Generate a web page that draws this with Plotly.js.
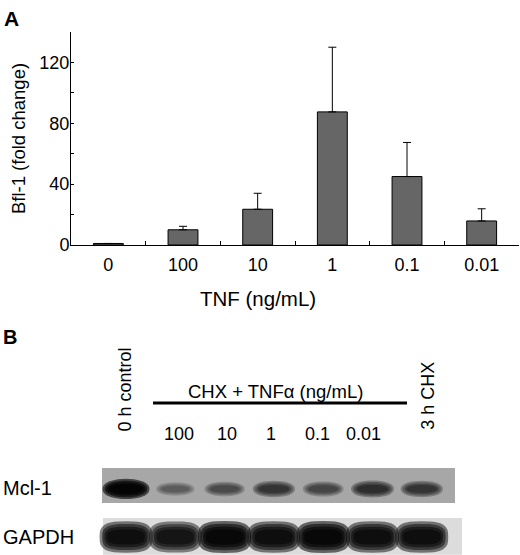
<!DOCTYPE html>
<html>
<head>
<meta charset="utf-8">
<script src="https://cdn.plot.ly/plotly-3.0.1.min.js"></script>
<style>html,body{margin:0;padding:0;background:#fff;}#chart{width:520px;height:555px;}</style>
</head>
<body>
<div id="chart"></div>
<script>
// ---------- Panel A data ----------
const doses = ['0', '100', '10', '1', '0.1', '0.01'];
const bfl1 = [1, 10, 23.5, 87.5, 45, 15.8];
const bfl1Err = [0, 2.3, 10.5, 42.5, 22.4, 8];
const yTickVals = [0, 20, 40, 60, 80, 100, 120, 140];
const yTickText = ['0', '', '40', '', '80', '', '120', ''];

// ---------- Panel B data ----------
const laneLabels = ['0 h control', '100', '10', '1', '0.1', '0.01', '3 h CHX'];
const blotRows = ['Mcl-1', 'GAPDH'];
const mcl1Intensity = [0.97, 0.45, 0.55, 0.68, 0.58, 0.72, 0.68];
const gapdhIntensity = [0.93, 0.9, 0.96, 0.93, 0.96, 0.93, 0.93];

const FONT = 'Liberation Sans, Arial, Helvetica, sans-serif';
const lanes = laneLabels.map((_, i) => i);

// row index: Mcl-1 -> 1, GAPDH -> 0
const rowY = {'Mcl-1': 1, 'GAPDH': 0};

const shapes = [];
// membranes
shapes.push({type: 'rect', xref: 'x2', yref: 'y2', x0: -0.487, x1: 6.673, y0: 0.694, y1: 1.408,
  fillcolor: '#a7a7a7', line: {width: 0}, layer: 'below'});
shapes.push({type: 'rect', xref: 'x2', yref: 'y2', x0: -0.467, x1: 6.815, y0: -0.36, y1: 0.388,
  fillcolor: '#dcdcdc', line: {width: 0}, layer: 'below'});

// superellipse outline in x2/y2 data units
function blob(cx, cy, a, b, n) {
  const pts = [];
  const steps = 40;
  for (let s = 0; s < steps; s++) {
    const t = 2 * Math.PI * s / steps;
    const c = Math.cos(t), si = Math.sin(t);
    const x = cx + a * Math.sign(c) * Math.pow(Math.abs(c), 2 / n);
    const y = cy + b * Math.sign(si) * Math.pow(Math.abs(si), 2 / n);
    pts.push((s === 0 ? 'M' : 'L') + x.toFixed(4) + ',' + y.toFixed(4));
  }
  return pts.join(' ') + ' Z';
}
// a band = stacked translucent blobs so the edge fades (blot look)
function addBand(x, y, w, h, v, n) {
  const layers = 4;
  const a = 1 - Math.pow(1 - v, 1 / layers);
  for (let k = 0; k < layers; k++) {
    const sw = 1.16 - 0.11 * k, sh = 1.5 - 0.26 * k;
    shapes.push({type: 'path', xref: 'x2', yref: 'y2', path: blob(x, y, w * sw / 2, h * sh / 2, n),
      fillcolor: 'rgba(0,0,0,' + a.toFixed(3) + ')', line: {width: 0}, layer: 'below'});
  }
}
mcl1Intensity.forEach((v, i) => {
  addBand(lanes[i], rowY['Mcl-1'] - 0.02, 0.55 + 0.28 * v, 0.1 + 0.18 * v, v, 2.2);
});
gapdhIntensity.forEach((v, i) => {
  addBand(lanes[i], rowY['GAPDH'], 0.72 + 0.22 * v, 0.27 + 0.17 * v, v, 3);
});
// bracket line over treated lanes
shapes.push({type: 'line', xref: 'x2', yref: 'paper', x0: 0.548, x1: 5.70,
  y0: (555 - 403) / 555, y1: (555 - 403) / 555, line: {color: '#000', width: 3}});

const annotations = [];
annotations.push({text: '<b>A</b>', xref: 'paper', yref: 'paper', x: 2 / 520, y: (555 - 5) / 555,
  xanchor: 'left', yanchor: 'top', showarrow: false, font: {family: FONT, size: 21, color: '#000'}});
annotations.push({text: '<b>B</b>', xref: 'paper', yref: 'paper', x: 1 / 520, y: (555 - 324) / 555,
  xanchor: 'left', yanchor: 'top', showarrow: false, font: {family: FONT, size: 20, color: '#000'}});
annotations.push({text: 'TNF (ng/mL)', xref: 'paper', yref: 'paper', x: 257.5 / 520, y: (555 - 298) / 555,
  xanchor: 'center', yanchor: 'middle', showarrow: false, font: {family: FONT, size: 20.5, color: '#000'}});
annotations.push({text: 'CHX + TNF\u03b1 (ng/mL)', xref: 'paper', yref: 'paper', x: 275.5 / 520, y: (555 - 391) / 555,
  xanchor: 'center', yanchor: 'middle', showarrow: false, font: {family: FONT, size: 18.5, color: '#000'}});

// lane labels
const doseShift = [0, 4, 2, -3, -6, -9.5, 0];
laneLabels.forEach((t, i) => {
  if (i === 0 || i === laneLabels.length - 1) {
    annotations.push({text: t, xref: 'x2', yref: 'paper', x: lanes[i], y: (555 - (i === 0 ? 389.5 : 396)) / 555,
      xshift: i === 0 ? -1 : 6, textangle: -90, xanchor: 'center', yanchor: 'middle', showarrow: false,
      font: {family: FONT, size: 18, color: '#000'}});
  } else {
    annotations.push({text: t, xref: 'x2', yref: 'paper', x: lanes[i], y: (555 - 434) / 555,
      xshift: doseShift[i], xanchor: 'center', yanchor: 'middle', showarrow: false,
      font: {family: FONT, size: 18, color: '#000'}});
  }
});
// row labels
blotRows.forEach(r => {
  annotations.push({text: r, xref: 'paper', yref: 'y2', x: 1 / 520, y: rowY[r],
    xanchor: 'left', yanchor: 'middle', showarrow: false, font: {family: FONT, size: 20, color: '#000'}});
});

const traces = [
  {type: 'bar', x: doses, y: bfl1, xaxis: 'x', yaxis: 'y', width: 0.4,
   marker: {color: '#666666', line: {color: '#000', width: 1}},
   error_y: {type: 'data', symmetric: false, array: bfl1Err, arrayminus: bfl1Err.map(() => 0),
     color: '#000', thickness: 1, width: 4},
   hoverinfo: 'x+y', showlegend: false},
  {type: 'scatter', mode: 'markers', x: lanes, y: lanes.map(() => rowY['Mcl-1']), xaxis: 'x2', yaxis: 'y2',
   marker: {opacity: 0}, hoverinfo: 'skip', showlegend: false}
];

const layout = {
  width: 520, height: 555,
  margin: {l: 0, r: 0, t: 0, b: 0},
  paper_bgcolor: '#fff', plot_bgcolor: 'rgba(0,0,0,0)',
  font: {family: FONT, color: '#000'},
  showlegend: false,
  xaxis: {domain: [71 / 520, 519 / 520], type: 'category', range: [-0.5, 5.5], anchor: 'y',
    showline: true, linecolor: '#000', linewidth: 1, ticks: 'inside', tickson: 'boundaries',
    ticklen: 4, tickcolor: '#000', tickwidth: 1, showgrid: false, zeroline: false,
    tickfont: {family: FONT, size: 18, color: '#000'}, ticklabelstandoff: 3, fixedrange: true},
  yaxis: {domain: [(555 - 245) / 555, (555 - 32) / 555], range: [0, 140], anchor: 'x',
    showline: true, linecolor: '#000', linewidth: 1, ticks: 'inside', ticklen: 3, tickcolor: '#000',
    tickvals: yTickVals, ticktext: yTickText, showgrid: false, zeroline: false,
    tickfont: {family: FONT, size: 18, color: '#000'}, ticklabelstandoff: -3,
    title: {text: 'Bfl-1 (fold change)', font: {family: FONT, size: 18.5, color: '#000'}, standoff: 8},
    fixedrange: true},
  xaxis2: {domain: [76.7 / 520, 495.75 / 520], range: [-1, 7.5], anchor: 'y2', visible: false, fixedrange: true},
  yaxis2: {domain: [0, 95 / 555], range: [-0.367, 1.571], anchor: 'x2', visible: false, fixedrange: true},
  shapes: shapes,
  annotations: annotations
};

Plotly.newPlot('chart', traces, layout, {displayModeBar: false, staticPlot: true});
</script>
</body>
</html>
